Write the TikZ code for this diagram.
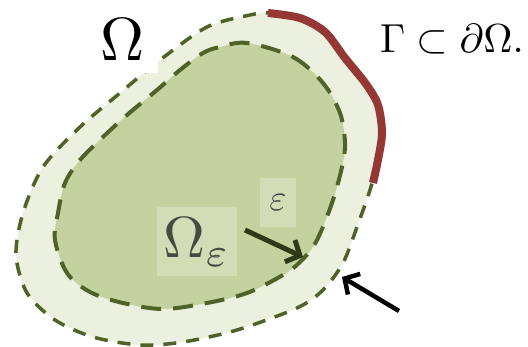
\documentclass[tikz,border=0pt]{standalone}
\usetikzlibrary{arrows.meta}
\definecolor{vertclair}{HTML}{EBF1DE}
\definecolor{vertmoyen}{HTML}{C3D29E}
\definecolor{vertfonce}{HTML}{4F6228}
\definecolor{rougebord}{HTML}{953735}
\definecolor{flechevert}{HTML}{2E3A14}
\begin{document}
\begin{tikzpicture}[x=1pt,y=-1pt]
\tikzstyle{bordext} = [draw=vertfonce,line width=3.5pt,dash pattern=on 13pt off 10pt] %bord de Omega
\tikzstyle{bordint} = [draw=vertfonce,line width=4pt,dash pattern=on 20pt off 12pt] %bord de Omega_eps
\tikzstyle{etiq} = [fill=white,fill opacity=0.25,text opacity=0.8,text=black!85,inner sep=0pt]
\useasboundingbox (0,0) rectangle (528,347);
%domaine Omega
\filldraw[fill=vertclair,bordext] plot[smooth cycle,tension=0.5] coordinates {(250,15) (270,13) (300,18) (325,32) (345,58) (366,84) (378,105) (382,133) (378,160) (370,190) (357,227) (343,263) (323,290) (297,308) (237,330) (183,342) (140,345) (93,337) (55,320) (27,293) (16,255) (23,213) (43,167) (80,127) (120,93) (160,60) (207,27)};
%partie Gamma du bord
\draw[rougebord,line width=8pt] plot[smooth,tension=0.5] coordinates {(268,13) (300,18) (325,32) (345,58) (366,84) (378,105) (382,133) (378,160) (373,183)};
\node[fill=white,minimum width=70,minimum height=66,inner sep=0pt] (O) at (123,40) {\scalebox{6.1}{$\Omega$}};
%domaine Omega_eps
\filldraw[fill=vertmoyen,bordint] plot[smooth cycle,tension=0.55] coordinates {(247,43) (293,57) (323,83) (340,113) (345,143) (342,167) (332,203) (316,242) (300,262) (283,275) (247,293) (207,303) (163,309) (123,303) (90,292) (67,273) (55,240) (58,213) (65,183) (80,160) (103,137) (127,115) (157,90) (180,70) (203,53) (220,47)};
\node[etiq,minimum width=80,minimum height=69] (Oe) at (197,242) {\scalebox{5.8}{$\Omega_\varepsilon$}};
\node[etiq,minimum width=36,minimum height=49] (e) at (278,203) {\scalebox{3.7}{$\varepsilon$}};
\node[anchor=base west,inner sep=0pt] (G) at (380,53) {\scalebox{4.05}{$\Gamma\subset\partial\Omega.$}};
%fleches
\coordinate (a1) at (245,230);
\coordinate (b1) at (303,257);
\coordinate (a2) at (399,311);
\coordinate (b2) at (342,277);
\draw[flechevert,line width=5pt,-{Straight Barb[length=11pt,width=24pt]}] (a1)--(b1);
\draw[black,line width=4.5pt,-{Straight Barb[length=11pt,width=24pt]}] (a2)--(b2);
\end{tikzpicture}
\end{document}
